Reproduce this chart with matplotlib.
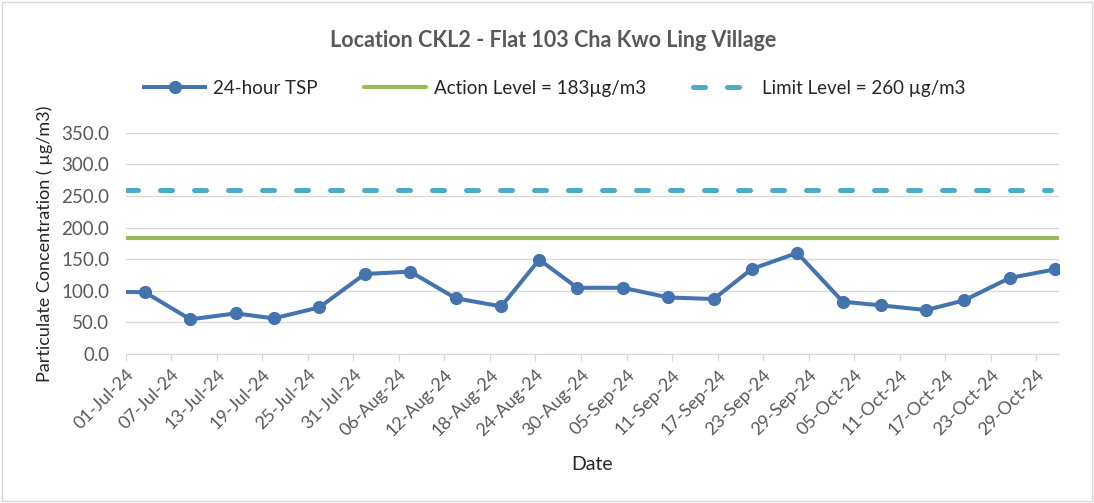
import numpy as np
import pandas as pd
import matplotlib.pyplot as plt

plt.rcParams['font.family'] = ['Lato', 'DejaVu Sans']

# sampling dates and 24-hour TSP results (ug/m3)
dates = pd.to_datetime([
    '2024-06-27', '2024-07-03', '2024-07-09', '2024-07-15', '2024-07-20',
    '2024-07-26', '2024-08-01', '2024-08-07', '2024-08-13', '2024-08-19',
    '2024-08-24', '2024-08-29', '2024-09-04', '2024-09-10', '2024-09-16',
    '2024-09-21', '2024-09-27', '2024-10-03', '2024-10-08', '2024-10-14',
    '2024-10-19', '2024-10-25', '2024-10-31'])
tsp = [98.5, 98.0, 55.0, 64.4, 56.5, 73.9, 126.7, 130.4, 88.2, 75.5,
       149.4, 104.9, 104.9, 89.6, 87.1, 134.6, 160.0, 82.9, 77.1, 69.7,
       85.0, 120.4, 134.1]
action_level = 183
limit_level = 260
x_start = pd.Timestamp('2024-07-01')
x_end = pd.Timestamp('2024-11-01')
limit_end = pd.Timestamp('2024-10-31')

txt = '#595959'
fig = plt.figure(figsize=(10.94, 5.03), dpi=100)
ax = fig.add_axes([0.115, 0.296, 0.853, 0.44])

# Excel date axis: each day sits in the middle of its slot
xs = dates + pd.Timedelta(hours=12)
ax.plot(xs, tsp, color='#4573AD', lw=2.9, marker='o', ms=8.5,
        solid_joinstyle='round', label='24-hour TSP', zorder=4)
ax.plot([x_start, x_end], [action_level, action_level], color='#9BBB59',
        lw=3.0, solid_capstyle='round', label='Action Level = 183µg/m3', zorder=3)
ax.plot([x_start, limit_end], [limit_level, limit_level], color='#4BACC6',
        lw=3.6, dashes=(2.4, 4.4), dash_capstyle='round',
        label='Limit Level = 260 µg/m3', zorder=3)

ax.set_xlim(x_start, x_end)
ax.set_ylim(0, 350)
ax.set_yticks(np.arange(0, 351, 50))
ax.yaxis.set_major_formatter(plt.FuncFormatter(lambda v, p: f'{v:.1f}'))
ticks = pd.date_range(x_start, '2024-10-29', freq='6D')
ax.set_xticks(ticks)
ax.set_xticklabels([d.strftime('%d-%b-%y') for d in ticks], rotation=45,
                   ha='right', rotation_mode='anchor')

ax.grid(axis='y', color='#D9D9D9', lw=1)
ax.set_axisbelow(True)
for s in ['top', 'right', 'left']:
    ax.spines[s].set_visible(False)
ax.spines['bottom'].set_color('#D9D9D9')
ax.tick_params(axis='y', length=0, labelsize=13.5, labelcolor=txt, pad=12)
ax.tick_params(axis='x', length=5, color='#D9D9D9', labelsize=13,
               labelcolor=txt, pad=4)

ax.set_xlabel('Date', fontsize=14, color='#262626', labelpad=12)
ax.set_ylabel('Particulate Concentration ( µg/m3)', fontsize=13,
              color='#262626', labelpad=6)
fig.text(0.506, 0.92, 'Location CKL2 - Flat 103 Cha Kwo Ling Village',
         ha='center', va='center', fontsize=15.5, fontweight='bold', color=txt)
fig.legend(loc='center', bbox_to_anchor=(0.507, 0.825), ncol=3, frameon=False,
           fontsize=13.5, handlelength=3.3, columnspacing=2.5,
           handletextpad=0.4, labelcolor='#262626')

fig.patches.append(plt.Rectangle((0.002, 0.003), 0.996, 0.994,
                                 transform=fig.transFigure, fill=False,
                                 edgecolor='#D9D9D9', lw=1))
fig.savefig('out.png', dpi=100)
